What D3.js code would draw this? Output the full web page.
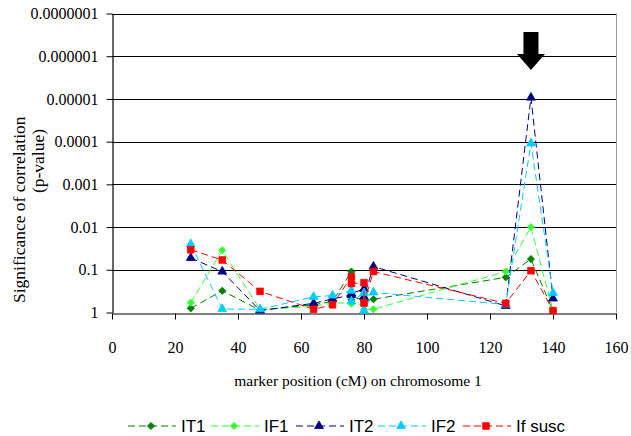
<!DOCTYPE html>
<html>
<head>
<meta charset="utf-8">
<script src="https://cdn.jsdelivr.net/npm/d3@7"></script>
<style>
  html, body { margin: 0; padding: 0; background: #fff; }
  svg { display: block; }
</style>
</head>
<body>
<svg id="chart" width="631" height="436"></svg>
<script>
// Marker positions along chromosome 1 (cM); two markers sit at 76 cM and two at 80 cM
const positions = [25, 35, 47, 64, 70, 76, 76, 80, 80, 83, 125, 133, 140];

// p-values of the correlation at each marker, one list per trait
const it1   = [0.80, 0.31, 0.88, 0.66, 0.55, 0.11, 0.50, 0.45, 0.55, 0.49, 0.15, 0.056, 0.92];
const if1   = [0.59, 0.035, 0.85, 0.72, 0.60, 0.60, 0.62, 0.65, 0.85, 0.84, 0.11, 0.010, 0.93];
const it2   = [0.053, 0.11, 0.90, 0.61, 0.48, 0.39, 0.36, 0.28, 0.43, 0.084, 0.70, 0.0000093, 0.47];
const if2   = [0.025, 0.83, 0.84, 0.43, 0.40, 0.31, 0.55, 0.35, 0.90, 0.34, 0.65, 0.00011, 0.35];
const ifSusc = [0.034, 0.059, 0.32, 0.84, 0.66, 0.145, 0.21, 0.20, 0.60, 0.11, 0.61, 0.105, 0.90];

const seriesNames = ["IT1", "IF1", "IT2", "IF2", "If susc"];
const seriesColors = ["#008000", "#33ff33", "#000080", "#00ccff", "#ff0000"];
const seriesShapes = ["diamond", "diamond", "triangle", "triangle", "square"];
const seriesValues = [it1, if1, it2, if2, ifSusc];

const xTicks = [0, 20, 40, 60, 80, 100, 120, 140, 160];
const yTicks = [1, 0.1, 0.01, 0.001, 0.0001, 0.00001, 0.000001, 0.0000001];
const yTickLabels = ["1", "0.1", "0.01", "0.001", "0.0001", "0.00001", "0.000001", "0.0000001"];

const svg = d3.select("#chart");
const plot = { left: 112, right: 616, top: 13.5, bottom: 312.5 };

const x = d3.scaleLinear().domain([0, 160]).range([plot.left, plot.right]);
const y = d3.scaleLog().domain([1, 1e-7]).range([plot.bottom, plot.top]);

// horizontal gridlines at each decade
svg.append("g")
  .selectAll("line")
  .data(yTicks.slice(1))
  .join("line")
  .attr("x1", plot.left).attr("x2", plot.right)
  .attr("y1", d => Math.round(y(d)) + 0.5).attr("y2", d => Math.round(y(d)) + 0.5)
  .attr("stroke", "#000").attr("stroke-width", 1);

// right edge of the plot area
svg.append("line")
  .attr("x1", plot.right + 0.5).attr("x2", plot.right + 0.5)
  .attr("y1", y(1e-7)).attr("y2", plot.bottom)
  .attr("stroke", "#999").attr("stroke-width", 1);

// axes
const yAxis = d3.axisLeft(y)
  .tickValues(yTicks)
  .tickFormat((d, i) => yTickLabels[i])
  .tickSizeInner(6).tickSizeOuter(0).tickPadding(8);
const gy = svg.append("g").attr("transform", `translate(${plot.left + 0.5},0)`).call(yAxis);

const xAxis = d3.axisBottom(x)
  .tickValues(xTicks)
  .tickSizeInner(6).tickSizeOuter(0).tickPadding(22);
const gx = svg.append("g").attr("transform", `translate(0,${Math.round(plot.bottom) + 0.5})`).call(xAxis);

[gx, gy].forEach(g => {
  g.select(".domain").attr("stroke", "#000").attr("stroke-width", 1.2);
  g.selectAll(".tick line").attr("stroke", "#000");
  g.selectAll("text")
    .attr("font-family", "'Liberation Serif', 'Times New Roman', serif")
    .attr("font-size", 16).attr("fill", "#000");
});

// axis titles
svg.append("text")
  .attr("x", 358).attr("y", 386)
  .attr("text-anchor", "middle")
  .attr("font-family", "'Liberation Serif', 'Times New Roman', serif")
  .attr("font-size", 15.5)
  .text("marker position (cM) on chromosome 1");

svg.append("clipPath").attr("id", "ytitle-clip")
  .append("rect").attr("x", 0).attr("y", 82).attr("width", 60).attr("height", 260);

const yTitle = svg.append("g").attr("clip-path", "url(#ytitle-clip)");
yTitle.append("text")
  .attr("transform", "translate(25,303) rotate(-90)")
  .attr("text-anchor", "start")
  .attr("font-family", "'Liberation Serif', 'Times New Roman', serif")
  .attr("font-size", 17.5)
  .text("Significance of correlation");
yTitle.append("text")
  .attr("transform", "translate(44,161) rotate(-90)")
  .attr("text-anchor", "middle")
  .attr("font-family", "'Liberation Serif', 'Times New Roman', serif")
  .attr("font-size", 17.5)
  .text("(p-value)");

// marker shapes
function markerPath(shape) {
  if (shape === "square") return d3.symbol(d3.symbolSquare, 44)();
  if (shape === "triangle") return d3.symbol(d3.symbolTriangle, 34)();
  return d3.symbol(d3.symbolSquare, 26)();
}
function markerRotate(shape) { return shape === "diamond" ? 45 : 0; }

const line = d3.line().x(d => x(d[0])).y(d => y(d[1]));

seriesValues.forEach((vals, si) => {
  const pts = positions.map((p, i) => [p, vals[i]]);
  const g = svg.append("g");
  g.append("path")
    .attr("d", line(pts))
    .attr("fill", "none")
    .attr("stroke", seriesColors[si])
    .attr("stroke-width", 1)
    .attr("stroke-dasharray", "7,4");
  g.selectAll("path.mk")
    .data(pts)
    .join("path")
    .attr("class", "mk")
    .attr("d", markerPath(seriesShapes[si]))
    .attr("transform", d => `translate(${x(d[0])},${y(d[1])}) rotate(${markerRotate(seriesShapes[si])})`)
    .attr("fill", seriesColors[si])
    .attr("stroke", seriesColors[si])
    .attr("stroke-width", 0.8);
});

// arrow pointing down at the peak
const ax = x(133);
svg.append("path")
  .attr("d", `M${ax - 7.5},32 L${ax + 7.5},32 L${ax + 7.5},54 L${ax + 14},54 L${ax},70 L${ax - 14},54 L${ax - 7.5},54 Z`)
  .attr("fill", "#000");

// legend
const legendY = 426;
const legendStarts = [128, 211, 296, 378, 463];
const legend = svg.append("g");
seriesNames.forEach((name, si) => {
  const lx = legendStarts[si];
  const g = legend.append("g");
  g.append("line")
    .attr("x1", lx).attr("x2", lx + 48)
    .attr("y1", legendY).attr("y2", legendY)
    .attr("stroke", seriesColors[si]).attr("stroke-width", 1)
    .attr("stroke-dasharray", "7,4");
  g.append("path")
    .attr("d", markerPath(seriesShapes[si]))
    .attr("transform", `translate(${lx + 23},${legendY}) rotate(${markerRotate(seriesShapes[si])})`)
    .attr("fill", seriesColors[si]).attr("stroke", seriesColors[si]).attr("stroke-width", 0.8);
  g.append("text")
    .attr("x", lx + 53).attr("y", legendY + 6)
    .attr("font-family", "'Liberation Sans', Arial, sans-serif")
    .attr("font-size", 17)
    .text(name);
});
</script>
</body>
</html>
